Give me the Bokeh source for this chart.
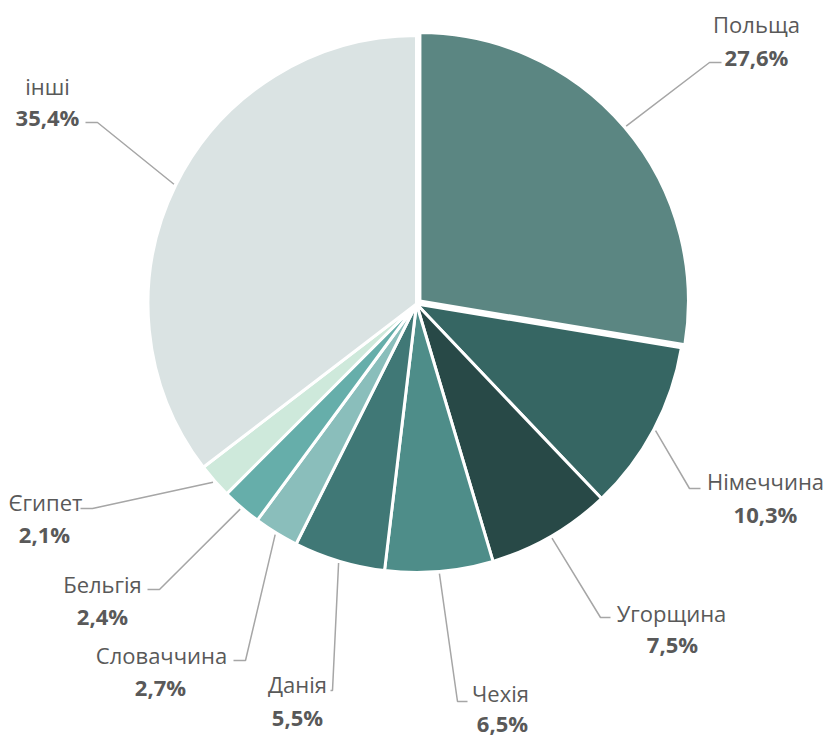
import math
from bokeh.plotting import figure
from bokeh.models import ColumnDataSource, Range1d
from bokeh.core.properties import value
from bokeh.embed import file_html
from bokeh.resources import INLINE

# ---- data ----
countries = ["Польща", "Німеччина", "Угорщина", "Чехія", "Данія",
             "Словаччина", "Бельгія", "Єгипет", "інші"]
shares = [27.6, 10.3, 7.5, 6.5, 5.5, 2.7, 2.4, 2.1, 35.4]
pct_labels = ["27,6%", "10,3%", "7,5%", "6,5%", "5,5%", "2,7%", "2,4%", "2,1%", "35,4%"]

# ---- styles / layout ----
colors = ["#5B8682", "#366663", "#284947", "#4E8D89", "#407876",
          "#8ABEBB", "#66AEAA", "#CEE9DB", "#DAE3E3"]
explode = [4.5, 0, 0, 0, 0, 0, 0, 0, 0]
W, H = 830, 739
CX, CY, R = 416.0, -303.5, 268.5
name_pos = [(756, 23), (765, 480), (671, 612), (500, 692), (297, 683),
            (161, 654), (102, 583), (45, 501), (47, 85)]
pct_pos = [(756, 56), (765, 513), (672, 643), (502, 722), (297, 716),
           (160, 686), (102, 615), (44, 533), (47, 116)]
knee_pos = [(709, 62), (689, 488), (600, 617), (457, 701), (332, 690),
            (245, 660), (159, 589), (92, 508), (97, 122)]
end_pos = [(721, 62), (700, 488), (610, 617), (467, 701), (330, 690),
           (233, 660), (147, 589), (80, 508), (85, 122)]

total = sum(shares)
starts, ends, xs, ys, mids = [], [], [], [], []
cum = 0.0
for s, e in zip(shares, explode):
    f0 = cum / total
    cum += s
    f1 = cum / total
    a0 = math.pi / 2 - 2 * math.pi * f0
    a1 = math.pi / 2 - 2 * math.pi * f1
    am = (a0 + a1) / 2
    starts.append(a0)
    ends.append(a1)
    mids.append(am)
    xs.append(CX + e * math.cos(am))
    ys.append(CY + e * math.sin(am))

src = ColumnDataSource(dict(x=xs, y=ys, start=starts, end=ends, color=colors))

p = figure(width=W, height=H, output_backend="svg", toolbar_location=None,
           x_range=Range1d(0, W), y_range=Range1d(-H, 0), min_border=0)
p.axis.visible = False
p.grid.visible = False
p.outline_line_color = None
p.background_fill_color = "white"
p.border_fill_color = "white"

p.wedge(x="x", y="y", radius=R, start_angle="start", end_angle="end",
        direction="clock", fill_color="color", line_color="white",
        line_width=3, source=src)

# leader lines
lx, ly = [], []
for i in range(len(shares)):
    sx = xs[i] + (R + 2) * math.cos(mids[i])
    sy = ys[i] + (R + 2) * math.sin(mids[i])
    lx.append([sx, knee_pos[i][0], end_pos[i][0]])
    ly.append([sy, -knee_pos[i][1], -end_pos[i][1]])
p.multi_line(xs=lx, ys=ly, line_color="#A6A6A6", line_width=1.5)

p.text(x=[q[0] for q in name_pos], y=[-q[1] for q in name_pos], text=countries,
       text_font=value("Open Sans"), text_font_size="22px", text_color="#595959",
       text_align="center", text_baseline="middle")
p.text(x=[q[0] for q in pct_pos], y=[-q[1] for q in pct_pos], text=pct_labels,
       text_font=value("Open Sans"), text_font_size="22px", text_font_style="bold",
       text_color="#595959", text_align="center", text_baseline="middle")

open("out.html", "w").write(file_html(p, INLINE))
